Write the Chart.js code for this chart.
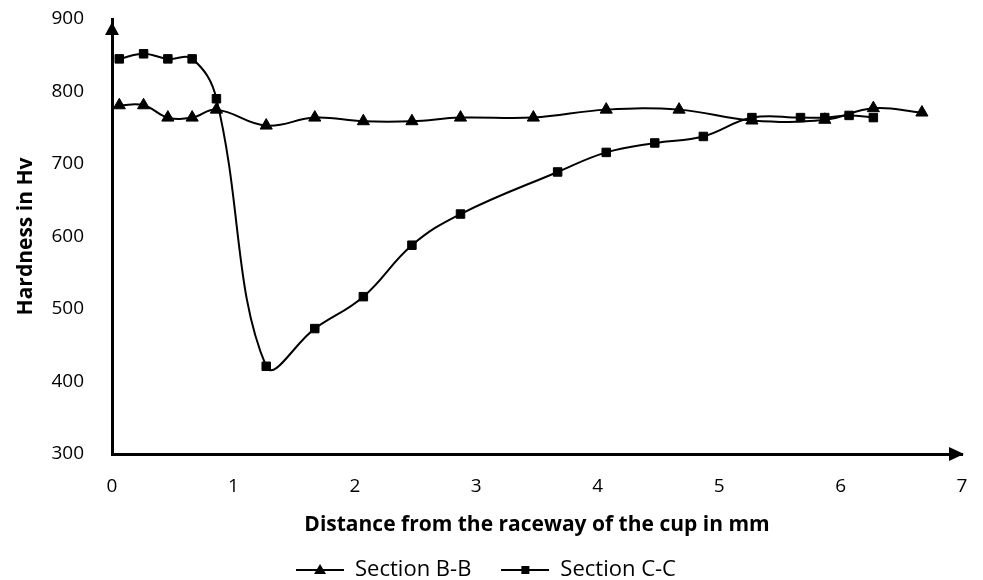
<!DOCTYPE html>
<html>
<head>
<meta charset="utf-8">
<script src="https://cdn.jsdelivr.net/npm/chart.js@4.4.1/dist/chart.umd.min.js"></script>
<style>
  html, body { margin: 0; padding: 0; background: #fff; }
  #wrap { width: 983px; height: 580px; }
</style>
</head>
<body>
<div id="wrap"><canvas id="dureza" width="983" height="580"></canvas></div>
<script>
// Datos (distancia en mm, dureza en Hv)
const seccionBBx = [0.06, 0.26, 0.46, 0.66, 0.86, 1.27, 1.67, 2.07, 2.47, 2.87, 3.47, 4.07, 4.67, 5.27, 5.87, 6.27, 6.67];
const seccionBBy = [781, 781, 764, 764, 775, 753, 764, 759, 759, 764, 764, 775, 775, 760, 761, 777, 771];
const seccionCCx = [0.06, 0.26, 0.46, 0.66, 0.86, 1.27, 1.67, 2.07, 2.47, 2.87, 3.67, 4.07, 4.47, 4.87, 5.27, 5.67, 5.87, 6.07, 6.27];
const seccionCCy = [845, 852, 845, 845, 790, 421, 473, 517, 588, 631, 689, 716, 729, 738, 764, 764, 764, 767, 764];
const nombresSeries = ['Section B-B', 'Section C-C'];
const tituloX = 'Distance from the raceway of the cup in mm';
const tituloY = 'Hardness in Hv';

const fuente = '"Open Sans", Lato, sans-serif';

// Icono de leyenda: linea con marcador
function iconoLeyenda(tipo) {
    const c = document.createElement('canvas');
    c.width = 48; c.height = 16;
    const g = c.getContext('2d');
    g.strokeStyle = '#000'; g.lineWidth = 2;
    g.beginPath(); g.moveTo(0, 8); g.lineTo(48, 8); g.stroke();
    g.fillStyle = '#000';
    if (tipo === 'triangle') {
        g.beginPath(); g.moveTo(24, 2); g.lineTo(30, 12); g.lineTo(18, 12); g.closePath(); g.fill();
    } else {
        g.fillRect(20, 4, 8, 8);
    }
    return c;
}

// Flechas al final de los ejes
const flechas = {
    id: 'flechas',
    afterDraw(chart) {
        const a = chart.chartArea;
        const ctx = chart.ctx;
        ctx.save();
        ctx.fillStyle = '#000';
        ctx.beginPath();
        ctx.moveTo(a.left, a.top + 3);
        ctx.lineTo(a.left - 7, a.top + 16);
        ctx.lineTo(a.left + 7, a.top + 16);
        ctx.closePath(); ctx.fill();
        ctx.beginPath();
        ctx.moveTo(a.right + 2, a.bottom);
        ctx.lineTo(a.right - 13, a.bottom - 7);
        ctx.lineTo(a.right - 13, a.bottom + 7);
        ctx.closePath(); ctx.fill();
        ctx.restore();
    }
};

const puntos = (xs, ys) => xs.map((x, i) => ({ x: x, y: ys[i] }));

const ctx = document.getElementById('dureza').getContext('2d');
const durezaChart = new Chart(ctx, {
    type: 'line',
    data: {
        datasets: [{
            label: nombresSeries[0],
            data: puntos(seccionBBx, seccionBBy),
            borderColor: '#000',
            backgroundColor: '#000',
            borderWidth: 2,
            pointStyle: 'triangle',
            pointRadius: 7,
            pointBorderWidth: 1,
            tension: 0.4,
            fill: false
        }, {
            label: nombresSeries[1],
            data: puntos(seccionCCx, seccionCCy),
            borderColor: '#000',
            backgroundColor: '#000',
            borderWidth: 2,
            pointStyle: 'rect',
            pointRadius: 6,
            pointBorderWidth: 1,
            tension: 0.4,
            fill: false
        }]
    },
    options: {
        responsive: false,
        animation: false,
        layout: { autoPadding: false, padding: { left: 10, right: 21, top: 19, bottom: -11 } },
        plugins: {
            tooltip: { enabled: false },
            legend: {
                position: 'bottom',
                labels: {
                    color: '#000',
                    font: { family: fuente, size: 22 },
                    usePointStyle: true,
                    pointStyleWidth: 48,
                    padding: 30,
                    generateLabels(chart) {
                        return chart.data.datasets.map((d, i) => ({
                            text: d.label,
                            pointStyle: iconoLeyenda(i === 0 ? 'triangle' : 'rect'),
                            fillStyle: '#000',
                            strokeStyle: '#000',
                            lineWidth: 0,
                            fontColor: '#000',
                            datasetIndex: i
                        }));
                    }
                }
            }
        },
        scales: {
            x: {
                type: 'linear',
                min: 0,
                max: 7,
                grid: { display: false, drawTicks: false },
                border: { display: true, color: '#000', width: 3 },
                ticks: { stepSize: 1, color: '#000', padding: 21, font: { family: fuente, size: 19 } },
                title: { display: true, text: tituloX, color: '#000', padding: { top: 0, bottom: -9 }, font: { family: fuente, size: 21, weight: 'bold' } },
                afterFit(scale) { scale.height = 75; scale.paddingLeft = 0; scale.paddingRight = 0; }
            },
            y: {
                min: 300,
                max: 900,
                grid: { display: false, drawTicks: false },
                border: { display: true, color: '#000', width: 3 },
                ticks: { stepSize: 100, color: '#000', padding: 28, font: { family: fuente, size: 19 } },
                title: { display: true, text: tituloY, color: '#000', padding: { top: 3, bottom: 3 }, font: { family: fuente, size: 21, weight: 'bold' } },
                afterFit(scale) { scale.width = 102; scale.paddingTop = 0; scale.paddingBottom = 0; }
            }
        }
    },
    plugins: [flechas]
});
</script>
</body>
</html>
